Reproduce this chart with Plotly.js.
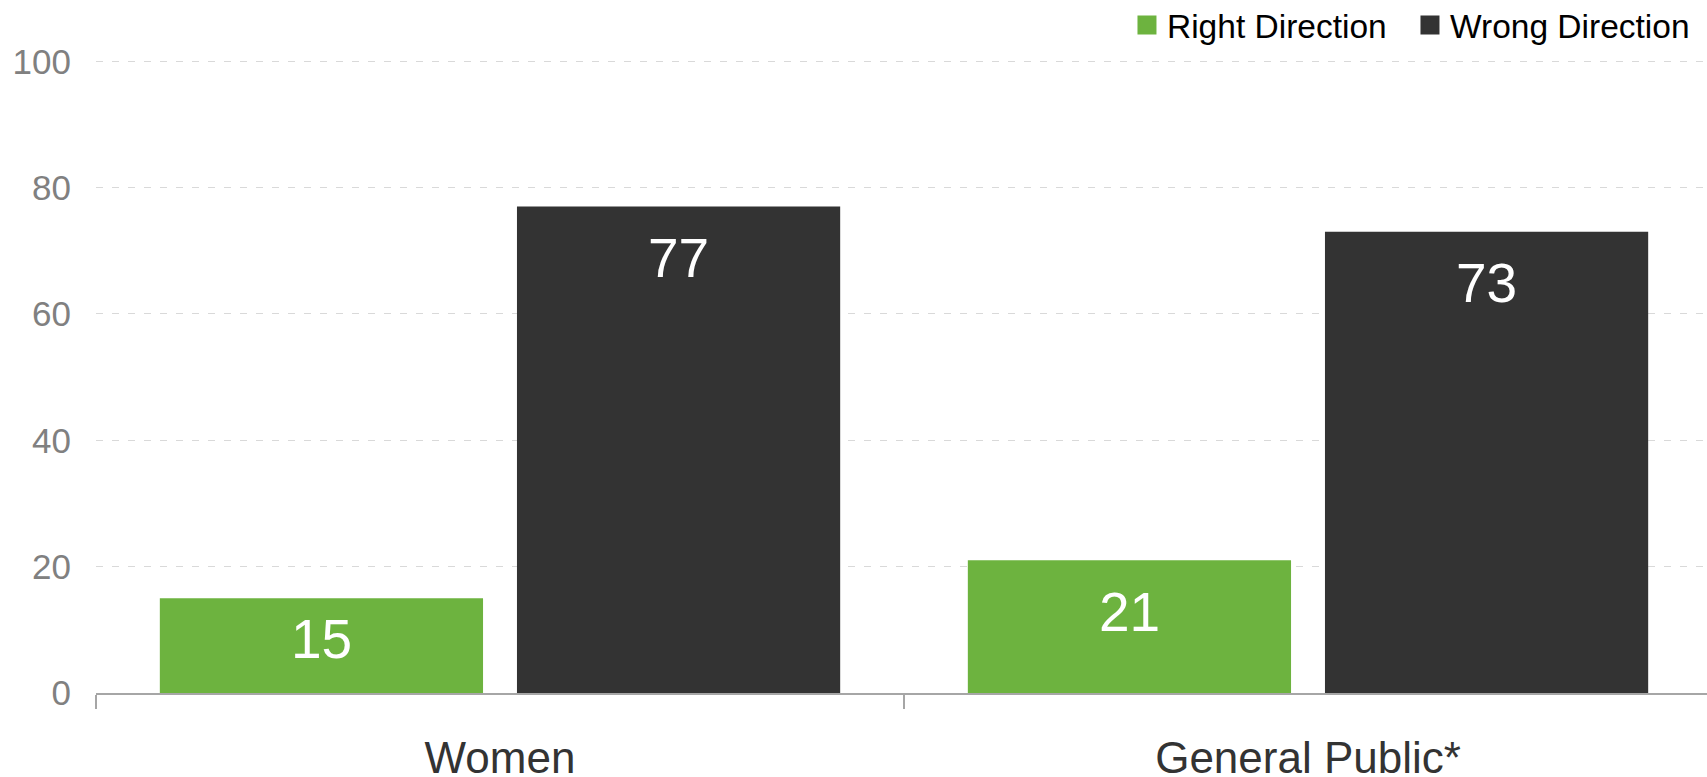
<!DOCTYPE html>
<html>
<head>
<meta charset="utf-8">
<script src="https://cdn.plot.ly/plotly-3.0.1.min.js"></script>
<style>
  html, body { margin: 0; padding: 0; background: #ffffff; }
  #chart { width: 1707px; height: 777px; }
</style>
</head>
<body>
<div id="chart"></div>
<script>
// ---- Data ----
const categories = ["Women", "General Public*"];
const seriesNames = ["Right Direction", "Wrong Direction"];
const rightDirection = [15, 21];
const wrongDirection = [77, 73];
const yTickValues = [0, 20, 40, 60, 80, 100];
const seriesColors = ["#6DB33F", "#333333"];

const FONT = "Liberation Sans, Arial, sans-serif";
const BARGAP = 0.116;
const BARGROUPGAP = 0.095;

const seriesValues = [rightDirection, wrongDirection];

const traces = seriesValues.map((vals, j) => ({
  type: "bar",
  x: categories,
  y: vals,
  name: seriesNames[j],
  marker: { color: seriesColors[j] },
  showlegend: false,
  hoverinfo: "x+y+name"
}));

// legend-only entries with larger square symbols
seriesNames.forEach((n, j) => {
  traces.push({
    type: "scatter",
    mode: "markers",
    x: [null],
    y: [null],
    name: n,
    marker: { symbol: "square", size: 16, color: seriesColors[j], line: { color: seriesColors[j], width: 3 } },
    showlegend: true,
    hoverinfo: "skip"
  });
});

// value labels inside bars (inside-end, kept within the bar when the bar is short)
const slot = (1 - BARGAP) / seriesValues.length;
const annotations = [];
seriesValues.forEach((vals, j) => {
  const off = (j - (seriesValues.length - 1) / 2) * slot;
  vals.forEach((v, i) => {
    annotations.push({
      x: i + off,
      y: Math.max(v - 8.1, 8.6),
      xref: "x",
      yref: "y",
      text: String(v),
      showarrow: false,
      yanchor: "middle",
      xanchor: "center",
      font: { family: FONT, size: 55, color: "#ffffff" }
    });
  });
});

const layout = {
  width: 1707,
  height: 777,
  margin: { l: 96, r: 0, t: 60, b: 84, autoexpand: false },
  paper_bgcolor: "#ffffff",
  plot_bgcolor: "#ffffff",
  barmode: "group",
  bargap: BARGAP,
  bargroupgap: BARGROUPGAP,
  font: { family: FONT },
  showlegend: true,
  legend: {
    orientation: "h",
    x: 0.9913,
    xanchor: "right",
    y: 1.1,
    yanchor: "top",
    yref: "paper",
    entrywidth: 238,
    entrywidthmode: "pixels",
    font: { family: FONT, size: 33.5, color: "#000000" },
    bgcolor: "rgba(0,0,0,0)",
    itemclick: false,
    itemdoubleclick: false
  },
  xaxis: {
    type: "category",
    range: [-0.5, 1.4938],
    tickson: "boundaries",
    ticks: "outside",
    ticklen: 14,
    tickwidth: 2,
    tickcolor: "#A6A6A6",
    showline: true,
    linecolor: "#A6A6A6",
    linewidth: 2,
    showgrid: false,
    zeroline: false,
    tickfont: { family: FONT, size: 44, color: "#333333" },
    ticklabelstandoff: 25,
    fixedrange: true
  },
  yaxis: {
    range: [0, 100.2],
    tickvals: yTickValues,
    ticktext: yTickValues.map(String),
    showgrid: true,
    gridcolor: "#D9D9D9",
    gridwidth: 1,
    griddash: "7px,9px",
    zeroline: false,
    showline: false,
    ticks: "",
    tickfont: { family: FONT, size: 35, color: "#808080" },
    ticklabelstandoff: 24,
    fixedrange: true
  },
  annotations: annotations
};

Plotly.newPlot("chart", traces, layout, { displayModeBar: false, responsive: false });
</script>
</body>
</html>
